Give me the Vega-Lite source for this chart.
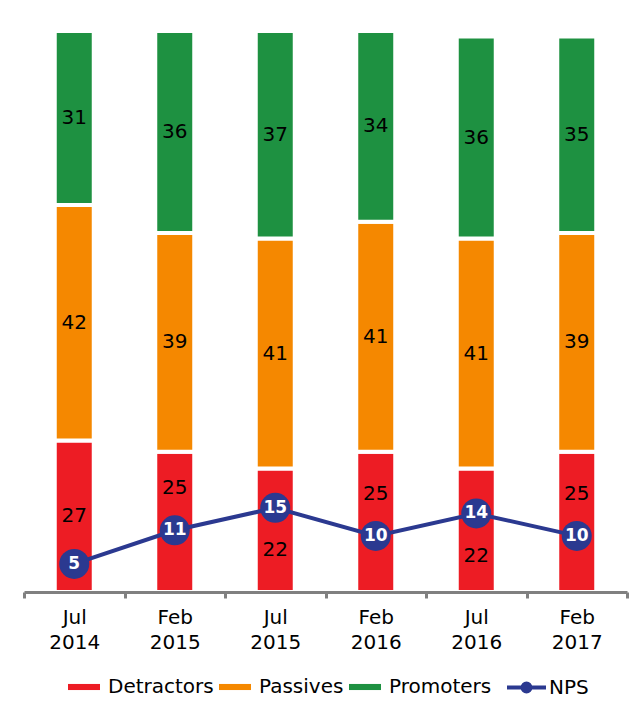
{
  "$schema": "https://vega.github.io/schema/vega-lite/v6.json",
  "width": 603,
  "height": 561,
  "autosize": {"type": "none"},
  "padding": {"left": 24, "top": 31, "right": 13, "bottom": 117},
  "config": {"view": {"stroke": null}, "font": "DejaVu Sans"},
  "datasets": {
    "shares": [
      {"period": "Jul 2014", "group": "Detractors", "value": 27, "order": 1},
      {"period": "Jul 2014", "group": "Passives", "value": 42, "order": 2},
      {"period": "Jul 2014", "group": "Promoters", "value": 31, "order": 3},
      {"period": "Feb 2015", "group": "Detractors", "value": 25, "order": 1},
      {"period": "Feb 2015", "group": "Passives", "value": 39, "order": 2},
      {"period": "Feb 2015", "group": "Promoters", "value": 36, "order": 3},
      {"period": "Jul 2015", "group": "Detractors", "value": 22, "order": 1},
      {"period": "Jul 2015", "group": "Passives", "value": 41, "order": 2},
      {"period": "Jul 2015", "group": "Promoters", "value": 37, "order": 3},
      {"period": "Feb 2016", "group": "Detractors", "value": 25, "order": 1},
      {"period": "Feb 2016", "group": "Passives", "value": 41, "order": 2},
      {"period": "Feb 2016", "group": "Promoters", "value": 34, "order": 3},
      {"period": "Jul 2016", "group": "Detractors", "value": 22, "order": 1},
      {"period": "Jul 2016", "group": "Passives", "value": 41, "order": 2},
      {"period": "Jul 2016", "group": "Promoters", "value": 36, "order": 3},
      {"period": "Feb 2017", "group": "Detractors", "value": 25, "order": 1},
      {"period": "Feb 2017", "group": "Passives", "value": 39, "order": 2},
      {"period": "Feb 2017", "group": "Promoters", "value": 35, "order": 3}
    ],
    "nps": [
      {"period": "Jul 2014", "series": "NPS", "value": 5},
      {"period": "Feb 2015", "series": "NPS", "value": 11},
      {"period": "Jul 2015", "series": "NPS", "value": 15},
      {"period": "Feb 2016", "series": "NPS", "value": 10},
      {"period": "Jul 2016", "series": "NPS", "value": 14},
      {"period": "Feb 2017", "series": "NPS", "value": 10}
    ]
  },
  "encoding": {
    "x": {
      "field": "period",
      "type": "nominal",
      "sort": null,
      "scale": {"paddingInner": 0, "paddingOuter": 0},
      "axis": {
        "title": null,
        "labelAngle": 0,
        "labelFontSize": 20,
        "labelColor": "black",
        "labelLineHeight": 25,
        "labelPadding": 9,
        "labelExpr": "split(datum.label, ' ')",
        "domainColor": "#808080",
        "domainWidth": 3,
        "tickColor": "#808080",
        "tickWidth": 3,
        "tickSize": 6,
        "tickBand": "extent",
        "zindex": 1
      }
    }
  },
  "layer": [
    {
      "data": {"name": "shares"},
      "mark": {"type": "bar", "size": 39, "stroke": "white", "strokeWidth": 4},
      "encoding": {
        "y": {"field": "value", "type": "quantitative", "stack": "zero", "scale": {"domain": [0, 100], "nice": false}, "axis": null},
        "color": {
          "field": "group",
          "type": "nominal",
          "scale": {"domain": ["Detractors", "Passives", "Promoters"], "range": ["#ED1C24", "#F58800", "#1E9141"]},
          "legend": {
            "orient": "none",
            "legendX": 44,
            "legendY": 640,
            "direction": "horizontal",
            "title": null,
            "labelFontSize": 20,
            "labelColor": "black",
            "symbolType": "M-1,-0.19H1V0.19H-1Z",
            "symbolSize": 1024,
            "symbolStrokeWidth": 0,
            "symbolOpacity": 1,
            "columnPadding": 5,
            "labelOffset": 8
          }
        },
        "order": {"field": "order", "type": "quantitative"}
      }
    },
    {
      "data": {"name": "shares"},
      "transform": [
        {"stack": "value", "groupby": ["period"], "sort": [{"field": "order"}], "as": ["y0", "y1"]},
        {"lookup": "period", "from": {"data": {"name": "nps"}, "key": "period", "fields": ["value"]}, "as": ["nps"]},
        {"calculate": "(datum.y0 + datum.y1) / 2", "as": "mid"},
        {"calculate": "datum.group !== 'Detractors' ? datum.mid : (abs(datum.nps - datum.mid) > 6 ? datum.mid : (datum.nps < datum.mid ? datum.nps + 7.5 : datum.nps - 7.5))", "as": "pos"}
      ],
      "mark": {"type": "text", "fontSize": 20, "fill": "black", "baseline": "middle"},
      "encoding": {
        "y": {"field": "pos", "type": "quantitative"},
        "text": {"field": "value", "type": "quantitative"}
      }
    },
    {
      "data": {"name": "nps"},
      "mark": {"type": "line", "strokeWidth": 4},
      "encoding": {
        "y": {"field": "value", "type": "quantitative"},
        "stroke": {
          "field": "series",
          "type": "nominal",
          "scale": {"domain": ["NPS"], "range": ["#2B3990"]},
          "legend": {
            "orient": "none",
            "legendX": 481,
            "legendY": 635,
            "title": null,
            "labelFontSize": 20,
            "labelColor": "black",
            "symbolType": "M-1,0L1,0M0.2,0A0.2,0.2,0,1,1,-0.2,0A0.2,0.2,0,1,1,0.2,0ZM0.08,0A0.08,0.08,0,1,1,-0.08,0A0.08,0.08,0,1,1,0.08,0Z",
            "symbolSize": 1521,
            "symbolStrokeWidth": 4,
            "symbolFillColor": "#2B3990",
            "symbolStrokeColor": "#2B3990",
            "symbolOpacity": 1,
            "labelOffset": 1
          }
        }
      }
    },
    {
      "data": {"name": "nps"},
      "mark": {"type": "circle", "size": 900, "opacity": 1, "color": "#2B3990"},
      "encoding": {
        "y": {"field": "value", "type": "quantitative"}
      }
    },
    {
      "data": {"name": "nps"},
      "mark": {"type": "text", "fontSize": 17, "fontWeight": "bold", "fill": "white", "baseline": "middle"},
      "encoding": {
        "y": {"field": "value", "type": "quantitative"},
        "text": {"field": "value", "type": "quantitative"}
      }
    }
  ]
}
